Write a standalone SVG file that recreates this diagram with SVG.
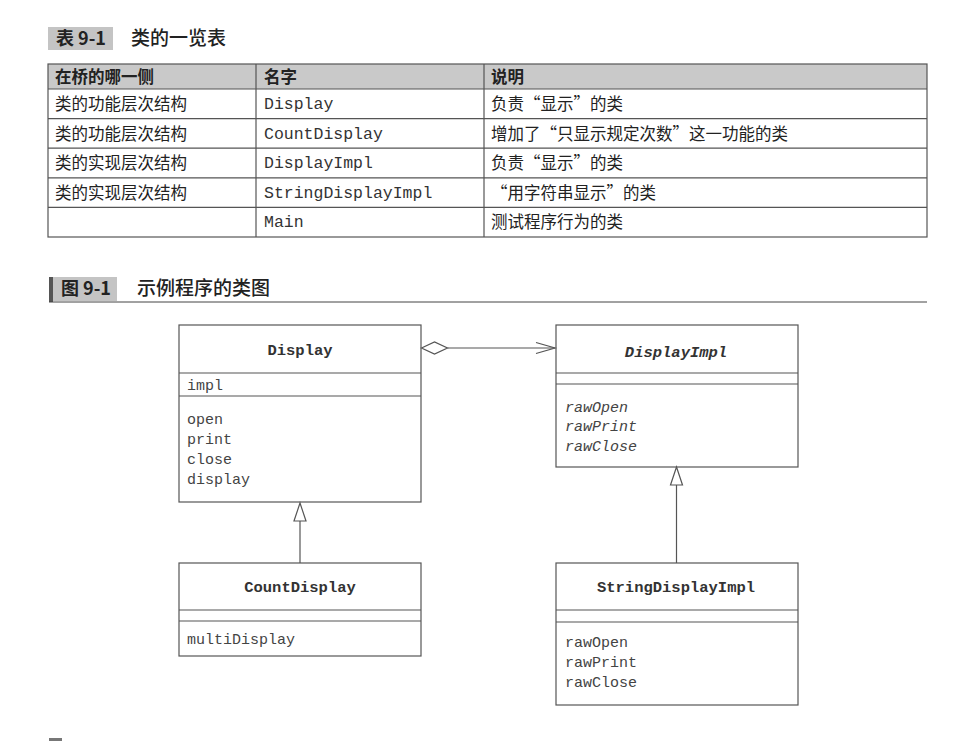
<svg xmlns="http://www.w3.org/2000/svg" width="962" height="741" viewBox="0 0 962 741">
<style>
.cjk{font-family:"Noto Sans CJK SC","Noto Sans",sans-serif;fill:#222}
.tt{font-size:16.5px}
.hd{font-size:16.5px;font-weight:bold}
.mono{font-family:"Liberation Mono","DejaVu Sans Mono",monospace;fill:#333}
.tm{font-size:16.5px}
.cls{fill:#fff;stroke:#555;stroke-width:1.2}
.sep{stroke:#555;stroke-width:1.2}
.cn{font-family:"Liberation Mono","DejaVu Sans Mono",monospace;font-size:15.5px;font-weight:bold;fill:#333;text-anchor:middle}
.mb{font-family:"Liberation Mono","DejaVu Sans Mono",monospace;font-size:15px;fill:#444}
.it{font-style:italic}
.tl{stroke:#555;stroke-width:1.2;fill:none}
.conn{stroke:#555;stroke-width:1.2;fill:none}
</style>
<rect width="962" height="741" fill="#fff"/>

<!-- Table title -->
<g id="table-title">
<rect x="48" y="27" width="65" height="23" fill="#c4c4c4"/>
<text x="56" y="45" class="cjk" font-size="18" font-weight="bold">表 9-1</text>
<text x="131" y="45" class="cjk" font-size="19" font-weight="500">类的一览表</text>
</g>

<!-- Table -->
<g id="table">
<rect x="48" y="64" width="879" height="25" fill="#c9c9c9"/>
<rect x="48" y="64" width="879" height="173" class="tl"/>
<line x1="48" y1="89" x2="927" y2="89" class="tl"/>
<line x1="48" y1="118.6" x2="927" y2="118.6" class="tl"/>
<line x1="48" y1="148.2" x2="927" y2="148.2" class="tl"/>
<line x1="48" y1="177.8" x2="927" y2="177.8" class="tl"/>
<line x1="48" y1="207.4" x2="927" y2="207.4" class="tl"/>
<line x1="256" y1="64" x2="256" y2="237" class="tl"/>
<line x1="484" y1="64" x2="484" y2="237" class="tl"/>
<text x="55" y="82.5" class="cjk hd">在桥的哪一侧</text>
<text x="264" y="82.5" class="cjk hd">名字</text>
<text x="491" y="82.5" class="cjk hd">说明</text>

<text x="55" y="110" class="cjk tt">类的功能层次结构</text>
<text x="264" y="109" class="mono tm">Display</text>
<text x="491" y="110" class="cjk tt">负责“显示”的类</text>

<text x="55" y="139.5" class="cjk tt">类的功能层次结构</text>
<text x="264" y="138.5" class="mono tm">CountDisplay</text>
<text x="491" y="139.5" class="cjk tt">增加了“只显示规定次数”这一功能的类</text>

<text x="55" y="169" class="cjk tt">类的实现层次结构</text>
<text x="264" y="168" class="mono tm">DisplayImpl</text>
<text x="491" y="169" class="cjk tt">负责“显示”的类</text>

<text x="55" y="198.5" class="cjk tt">类的实现层次结构</text>
<text x="264" y="197.5" class="mono tm">StringDisplayImpl</text>
<text x="491" y="198.5" class="cjk tt">“用字符串显示”的类</text>

<text x="264" y="227" class="mono tm">Main</text>
<text x="491" y="228" class="cjk tt">测试程序行为的类</text>
</g>

<!-- Figure title -->
<g id="figure-title">
<rect x="49" y="277" width="4" height="25" fill="#555"/>
<rect x="53" y="277" width="64" height="24" fill="#c4c4c4"/>
<text x="61" y="295" class="cjk" font-size="18" font-weight="bold">图 9-1</text>
<text x="137" y="295" class="cjk" font-size="19" font-weight="500">示例程序的类图</text>
<line x1="49" y1="302" x2="927" y2="302" stroke="#444" stroke-width="1"/>
</g>

<!-- Classes -->
<g id="Display">
<rect x="179" y="325" width="242" height="177" class="cls"/>
<line x1="179" y1="373" x2="421" y2="373" class="sep"/>
<line x1="179" y1="396" x2="421" y2="396" class="sep"/>
<text x="300" y="355" class="cn">Display</text>
<text x="187" y="390" class="mb">impl</text>
<text x="187" y="424" class="mb">open</text>
<text x="187" y="444" class="mb">print</text>
<text x="187" y="464" class="mb">close</text>
<text x="187" y="484" class="mb">display</text>
</g>

<g id="DisplayImpl">
<rect x="556" y="325" width="242" height="142" class="cls"/>
<line x1="556" y1="373" x2="798" y2="373" class="sep"/>
<line x1="556" y1="384" x2="798" y2="384" class="sep"/>
<text x="676" y="357" class="cn it">DisplayImpl</text>
<text x="565" y="412" class="mb it">rawOpen</text>
<text x="565" y="431" class="mb it">rawPrint</text>
<text x="565" y="451" class="mb it">rawClose</text>
</g>

<g id="CountDisplay">
<rect x="179" y="563" width="242" height="93" class="cls"/>
<line x1="179" y1="610" x2="421" y2="610" class="sep"/>
<line x1="179" y1="621" x2="421" y2="621" class="sep"/>
<text x="300" y="592" class="cn">CountDisplay</text>
<text x="187" y="644" class="mb">multiDisplay</text>
</g>

<g id="StringDisplayImpl">
<rect x="556" y="563" width="242" height="142" class="cls"/>
<line x1="556" y1="610" x2="798" y2="610" class="sep"/>
<line x1="556" y1="622" x2="798" y2="622" class="sep"/>
<text x="676" y="592" class="cn">StringDisplayImpl</text>
<text x="565" y="647" class="mb">rawOpen</text>
<text x="565" y="667" class="mb">rawPrint</text>
<text x="565" y="687" class="mb">rawClose</text>
</g>

<!-- Connectors -->
<g id="connectors">
<polygon points="421.5,348 434.5,342 447.5,348 434.5,354" fill="#fff" stroke="#555" stroke-width="1.2"/>
<line x1="447.5" y1="348" x2="555" y2="348" class="conn"/>
<polyline points="536,342.5 555,348 536,353.5" class="conn"/>
<line x1="300" y1="521" x2="300" y2="563" class="conn"/>
<polygon points="300,503 294,521 306,521" fill="#fff" stroke="#555" stroke-width="1.2"/>
<line x1="676.5" y1="485" x2="676.5" y2="563" class="conn"/>
<polygon points="676.5,467 670.5,485 682.5,485" fill="#fff" stroke="#555" stroke-width="1.2"/>
</g>

<rect x="49" y="738" width="13" height="3" fill="#777"/>
</svg>
